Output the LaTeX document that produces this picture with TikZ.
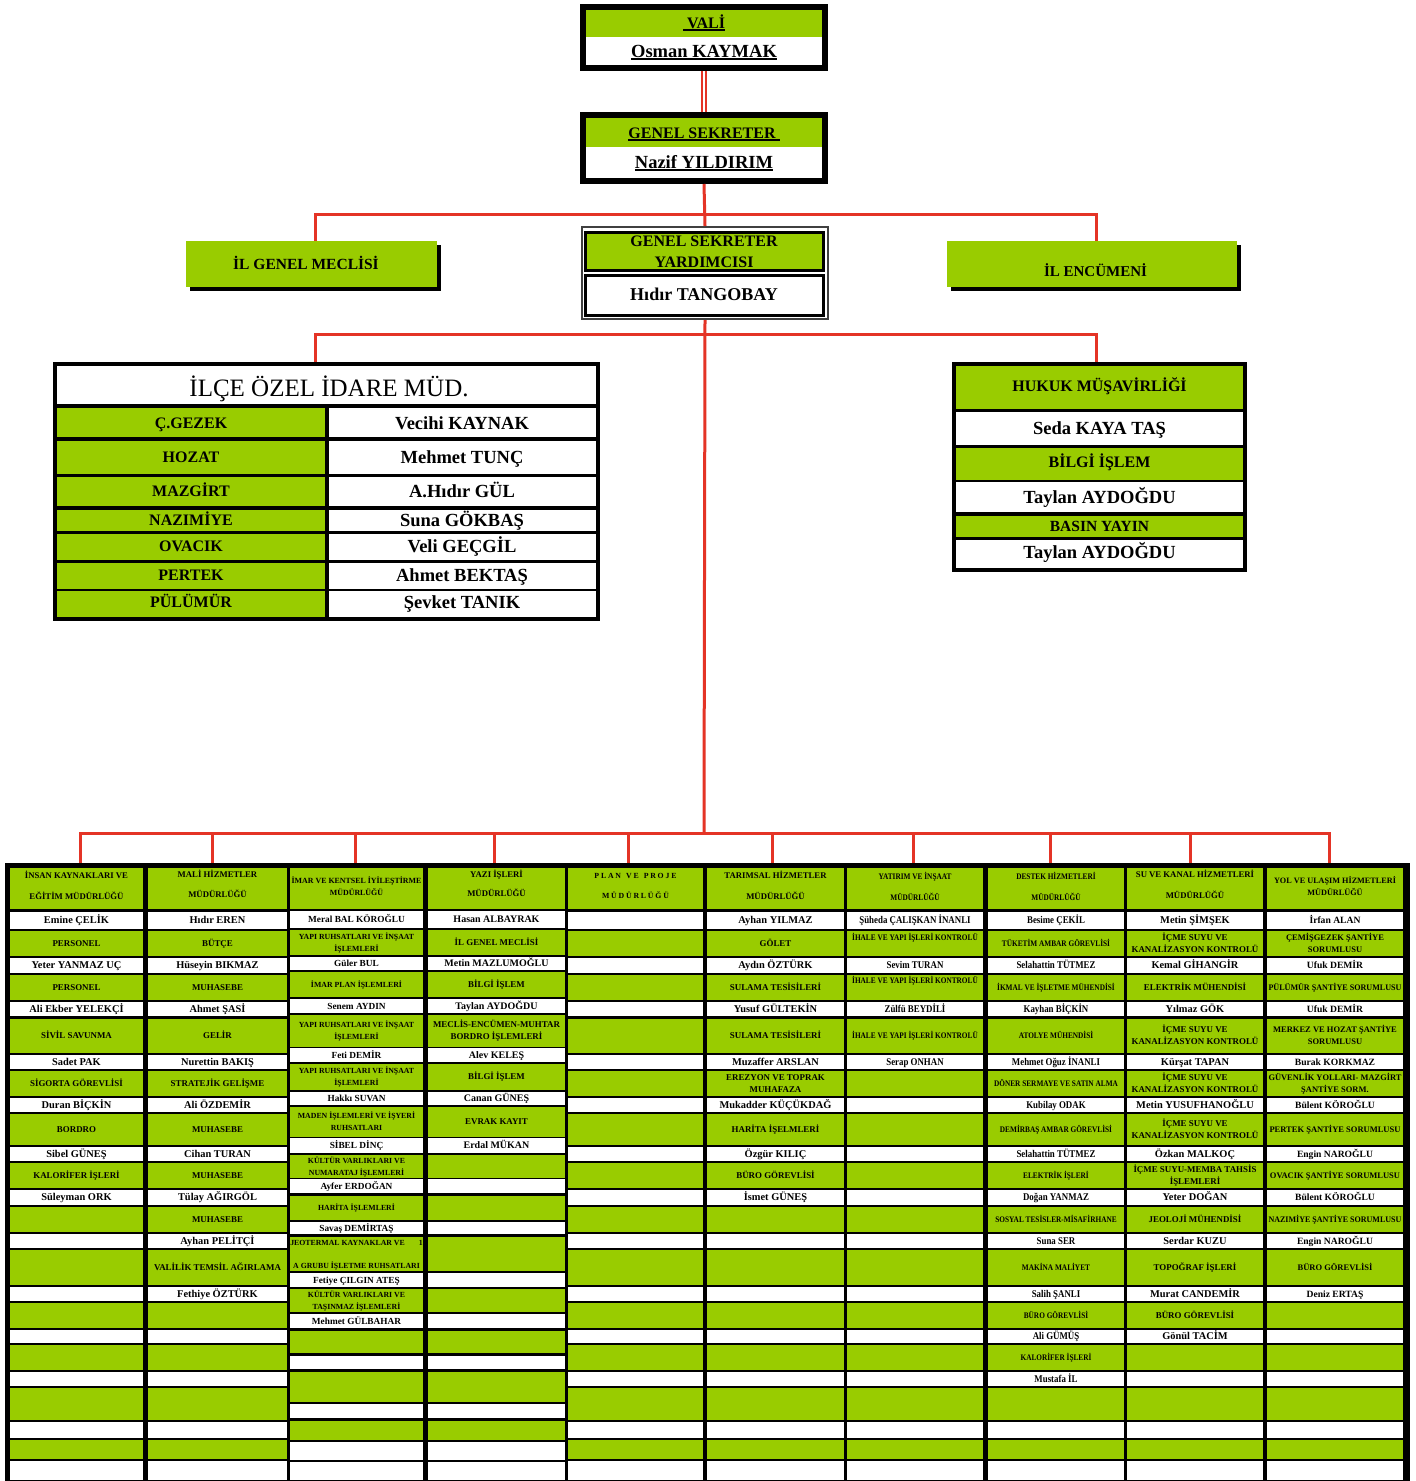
\documentclass[tikz,border=0pt]{standalone}
\usepackage{fontspec}
\setmainfont{Liberation Serif}
\usepackage{graphicx}
\definecolor{gr}{RGB}{153,204,0}
\definecolor{rl}{RGB}{228,52,38}
\newsavebox\fitbox
\newsavebox\ulbox
\newcommand\fitto[2]{\sbox\fitbox{#2}\ifdim\wd\fitbox>#1\relax\resizebox{#1}{\height}{\usebox\fitbox}\else\usebox\fitbox\fi}
\newcommand\capbox[1]{\raisebox{0pt}[0.66em][0pt]{#1}}
\newcommand\Nm[2][10.4]{\fitto{132pt}{\fontsize{#1}{12}\selectfont\capbox{#2}}}
\newcommand\Lb[2][8.9]{\fitto{133pt}{\fontsize{#1}{11}\selectfont\capbox{#2}}}
\newcommand\Nc[2][10.3]{\fitto{132pt}{\scalebox{0.86}[1]{\fontsize{#1}{12}\selectfont\capbox{#2}}}}
\newcommand\Lc[2][8.5]{\fitto{137pt}{\scalebox{0.86}[1]{\fontsize{#1}{11}\selectfont\capbox{#2}}}}
\newcommand\myul[1]{\sbox\ulbox{#1}\rlap{\rule[-2.8pt]{\wd\ulbox}{1.6pt}}\usebox\ulbox}
\newcommand\lsp{\hspace{1.8pt}}
\newcommand\wsp{\hspace{5pt}}
\def\rowA{{888.5,920.5,943.5,965.5,987.5,1009,1036,1062,1083.5,1105,1129.5,1154,1175.5,1197.5,1219.5,1241,1267.5,1294,1315.5,1336.5,1357.5,1379,1404,1430,1449.5,1470.5}}
\def\rowB{{888.5,919.5,942.5,963.5,984.5,1006,1031,1055,1077,1098.5,1122,1145.5,1166.5,1186,1208,1228,1254,1280,1300.5,1321,1342,1362.5,1387,1411,1430.5,1451,1471}}
\def\colmid{{0,76.5,217.5,356.5,496.5,635.5,775.5,915,1056,1195,1335}}
\def\rowsA{gr/868/909, white/912/929, gr/931/956, white/958/973, gr/975/1000, white/1002/1016, gr/1019/1053, white/1055/1069, gr/1071/1096, white/1098/1112, gr/1114/1145, white/1147/1161, gr/1163/1188, white/1190/1205, gr/1207/1232, white/1234/1248, gr/1250/1285, white/1287/1301, gr/1303/1328, white/1330/1343, gr/1345/1370, white/1372/1386, gr/1388/1420, white/1422/1438, gr/1440/1459, white/1461/1480}
\def\rowsB{gr/868/909, white/911/928, gr/930/955, white/957/970, gr/972/997, white/999/1013, gr/1015/1047, white/1048/1062, gr/1064/1090, white/1092/1105, gr/1107/1137, white/1138/1153, gr/1155/1178, white/1179/1193, gr/1196/1220, white/1222/1234, gr/1237/1271, white/1273/1287, gr/1289/1312, white/1314/1328, gr/1331/1353, white/1356/1369, gr/1372/1402, white/1404/1418, gr/1421/1440, white/1442/1460, white/1462/1480}
\newcommand\T[3]{%
  \ifnum#1=3 \pgfmathsetmacro\ty{\rowB[#2]}\else\ifnum#1=4 \pgfmathsetmacro\ty{\rowB[#2]}\else\pgfmathsetmacro\ty{\rowA[#2]}\fi\fi
  \pgfmathsetmacro\tx{\colmid[#1]}%
  \node[txt] (t#1-#2) at (\tx,\ty) {#3};}
\newcommand\Ty[4]{\pgfmathsetmacro\tx{\colmid[#1]}\node[txt] (t#1-#2) at (\tx,#3) {#4};}
\begin{document}
\begin{tikzpicture}[x=1pt,y=-1pt,
  redl/.style={draw=rl, line width=3pt},
  txt/.style={inner sep=0pt, outer sep=0pt, align=center, font=\bfseries},
  big/.style={inner sep=0pt, anchor=base},
  frame/.style={draw=black, line width=6pt, inner sep=0pt, outer sep=3pt},
  tabbg/.style={fill=black, inner sep=0pt}]
\useasboundingbox (0,0) rectangle (1416,1481);
\fill[white] (0,0) rectangle (1416,1481);

% ---------- VALI ----------
\node[frame, minimum width=242pt, minimum height=61pt] (vali) at (704,37.5) {};
\fill[gr] (586,10) rectangle (822,37);
\fill[white] (586,37) rectangle (822,65);
\node[big, font=\bfseries\fontsize{16}{18}\selectfont] (valit) at (704,28) {\myul{\ VALİ}};
\node[big, font=\bfseries\fontsize{18.5}{20}\selectfont] (valin) at (704,57) {\myul{Osman KAYMAK}};

% ---------- GENEL SEKRETER ----------
\node[frame, minimum width=242pt, minimum height=66pt] (gs) at (704,148) {};
\fill[gr] (586,118) rectangle (822,147);
\fill[white] (586,147) rectangle (822,178);
\node[big, font=\bfseries\fontsize{16}{18}\selectfont] (gst) at (704,138) {\myul{GENEL SEKRETER\ }};
\node[big, font=\bfseries\fontsize{18.5}{20}\selectfont] (gsn) at (704,168) {\myul{Nazif YILDIRIM}};

% ---------- GSY ----------
\node[draw=black!75, line width=2pt, minimum width=246pt, minimum height=92pt, inner sep=0pt, outer sep=1pt] (gsy) at (705,273) {};
\draw[fill=gr, line width=3pt] (585.5,232.5) rectangle (823.5,270.5);
\draw[fill=white, line width=3pt] (585.5,275.5) rectangle (823.5,315.5);
\node[big, font=\bfseries\fontsize{16}{18}\selectfont] (gsyt1) at (704,246) {GENEL SEKRETER};
\node[big, font=\bfseries\fontsize{16}{18}\selectfont] (gsyt2) at (704,267) {YARDIMCISI};
\node[big, font=\bfseries\fontsize{18}{20}\selectfont] (gsyn) at (704,300) {Hıdır TANGOBAY};

% ---------- MECLIS / ENCUMEN ----------
\fill[black] (190,245) rectangle (441,291);
\node[fill=gr, minimum width=251pt, minimum height=46pt, inner sep=0pt] (meclis) at (311.5,264) {};
\node[big, font=\bfseries\fontsize{15.5}{18}\selectfont] (meclist) at (306,269) {İL GENEL MECLİSİ};
\fill[black] (951,245) rectangle (1241,291);
\node[fill=gr, minimum width=290pt, minimum height=46pt, inner sep=0pt] (encumen) at (1092,264) {};
\node[big, font=\bfseries\fontsize{15}{18}\selectfont] (encument) at (1095.5,276) {İL ENCÜMENİ};

% ---------- ILCE ----------
\node[tabbg, minimum width=547pt, minimum height=259pt] (ilce) at (326.5,491.5) {};
\fill[white] (57,366) rectangle (596,404);
\node[big, font=\fontsize{25}{28}\selectfont] (ilcet) at (329,396) {İLÇE ÖZEL İDARE MÜD.};
\foreach \a/\b/\yy/\l/\n [count=\k] in {408/437/423/Ç.GEZEK/Vecihi KAYNAK, 441/474/457/HOZAT/Mehmet TUNÇ, 477/506/491/MAZGİRT/A.Hıdır GÜL, 510/531/520/NAZIMİYE/Suna GÖKBAŞ, 534/560/546/OVACIK/Veli GEÇGİL, 563/589/575/PERTEK/Ahmet BEKTAŞ, 591/617/602/PÜLÜMÜR/Şevket TANIK}{
  \fill[gr] (57,\a) rectangle (325,\b);
  \fill[white] (329,\a) rectangle (596,\b);
  \node[big, font=\bfseries\fontsize{16}{18}\selectfont] (ilk\k) at (191,\yy+5.3) {\l};
  \node[big, font=\bfseries\fontsize{18.5}{20}\selectfont] (ilv\k) at (462,\yy+6.1) {\n};
}

% ---------- HUKUK ----------
\node[tabbg, minimum width=295pt, minimum height=210pt] (hukuk) at (1099.5,467) {};
\foreach \c/\a/\b/\yy/\s/\l [count=\k] in {gr/366/409/386/16/HUKUK MÜŞAVİRLİĞİ, white/412/445/428/18.5/Seda KAYA TAŞ, gr/448/480/462/16/BİLGİ İŞLEM, white/482/512/497/18.5/Taylan AYDOĞDU, gr/516/537/526/15.5/BASIN YAYIN, white/540/568/552/18.5/Taylan AYDOĞDU}{
  \fill[\c] (956,\a) rectangle (1243,\b);
  \node[big, font=\bfseries\fontsize{\s}{20}\selectfont] (hk\k) at (1099.5,\yy+0.33*\s) {\l};
}

% ---------- BOTTOM TABLE ----------
\fill[black] (5,863) rectangle (1410,1481);
\foreach \xa/\xb in {10/143,148/287,568/703,707/844,847/983,988/1124,1127/1263,1267/1403}{
  \foreach \c/\a/\b in \rowsA { \fill[\c] (\xa,\a) rectangle (\xb,\b); }
}
\foreach \xa/\xb in {290/423,428/565}{
  \foreach \c/\a/\b in \rowsB { \fill[\c] (\xa,\a) rectangle (\xb,\b); }
}

% column 1
\Ty{1}{0}{886.5}{\Lb[8.7]{İNSAN KAYNAKLARI VE}\\[9pt]\Lb[8.7]{EĞİTİM MÜDÜRLÜĞÜ}}
\T{1}{1}{\Nm{Emine ÇELİK}}
\T{1}{2}{\Lb{PERSONEL}}
\T{1}{3}{\Nm{Yeter YANMAZ UÇ}}
\T{1}{4}{\Lb{PERSONEL}}
\T{1}{5}{\Nm{Ali Ekber YELEKÇİ}}
\T{1}{6}{\Lb{SİVİL SAVUNMA}}
\T{1}{7}{\Nm{Sadet PAK}}
\T{1}{8}{\Lb{SİGORTA GÖREVLİSİ}}
\T{1}{9}{\Nm{Duran BİÇKİN}}
\T{1}{10}{\Lb{BORDRO}}
\T{1}{11}{\Nm{Sibel GÜNEŞ}}
\T{1}{12}{\Lb{KALORİFER İŞLERİ}}
\T{1}{13}{\Nm{Süleyman ORK}}

% column 2
\Ty{2}{0}{885}{\Lb[8.7]{MALİ HİZMETLER}\\[8pt]\Lb[8.7]{MÜDÜRLÜĞÜ}}
\T{2}{1}{\Nm{Hıdır EREN}}
\T{2}{2}{\Lb{BÜTÇE}}
\T{2}{3}{\Nm{Hüseyin BIKMAZ}}
\T{2}{4}{\Lb{MUHASEBE}}
\T{2}{5}{\Nm{Ahmet ŞASİ}}
\T{2}{6}{\Lb{GELİR}}
\T{2}{7}{\Nm{Nurettin BAKIŞ}}
\T{2}{8}{\Lb{STRATEJİK GELİŞME}}
\T{2}{9}{\Nm{Ali ÖZDEMİR}}
\T{2}{10}{\Lb{MUHASEBE}}
\T{2}{11}{\Nm{Cihan TURAN}}
\T{2}{12}{\Lb{MUHASEBE}}
\T{2}{13}{\Nm{Tülay AĞIRGÖL}}
\T{2}{14}{\Lb{MUHASEBE}}
\T{2}{15}{\Nm{Ayhan PELİTÇİ}}
\T{2}{16}{\Lb{VALİLİK TEMSİL AĞIRLAMA}}
\T{2}{17}{\Nm{Fethiye ÖZTÜRK}}

% column 3
\Ty{3}{0}{887}{\Lb[7.9]{İMAR VE KENTSEL İYİLEŞTİRME}\\\Lb[7.9]{MÜDÜRLÜĞÜ}}
\T{3}{1}{\Nm[9.3]{Meral BAL KÖROĞLU}}
\T{3}{2}{\Lb[7.8]{YAPI RUHSATLARI VE İNŞAAT}\\\Lb[7.8]{İŞLEMLERİ}}
\T{3}{3}{\Nm[9.3]{Güler BUL}}
\T{3}{4}{\Lb[7.8]{İMAR PLAN İŞLEMLERİ}}
\T{3}{5}{\Nm[9.3]{Senem AYDIN}}
\T{3}{6}{\Lb[7.8]{YAPI RUHSATLARI VE İNŞAAT}\\\Lb[7.8]{İŞLEMLERİ}}
\T{3}{7}{\Nm[9.3]{Feti DEMİR}}
\T{3}{8}{\Lb[7.8]{YAPI RUHSATLARI VE İNŞAAT}\\\Lb[7.8]{İŞLEMLERİ}}
\T{3}{9}{\Nm[9.3]{Hakkı SUVAN}}
\T{3}{10}{\Lb[7.8]{MADEN İŞLEMLERİ VE İŞYERİ}\\\Lb[7.8]{RUHSATLARI}}
\T{3}{11}{\Nm[9.3]{SİBEL DİNÇ}}
\T{3}{12}{\Lb[7.8]{KÜLTÜR VARLIKLARI VE}\\\Lb[7.8]{NUMARATAJ İŞLEMLERİ}}
\T{3}{13}{\Nm[9.3]{Ayfer ERDOĞAN}}
\T{3}{14}{\Lb[7.8]{HARİTA İŞLEMLERİ}}
\T{3}{15}{\Nm[9.3]{Savaş DEMİRTAŞ}}
\Ty{3}{16a}{1243}{\Lb[7.8]{JEOTERMAL KAYNAKLAR VE\hspace{14pt}1}}
\Ty{3}{16b}{1266}{\Lb[7.8]{A GRUBU İŞLETME RUHSATLARI}}
\T{3}{17}{\Nm[9.3]{Fetiye ÇILGIN ATEŞ}}
\T{3}{18}{\Lb[7.8]{KÜLTÜR VARLIKLARI VE}\\\Lb[7.8]{TAŞINMAZ İŞLEMLERİ}}
\T{3}{19}{\Nm[9.3]{Mehmet GÜLBAHAR}}

% column 4
\Ty{4}{0}{884.5}{\Lb[8.7]{YAZI İŞLERİ}\\[7pt]\Lb[8.7]{MÜDÜRLÜĞÜ}}
\T{4}{1}{\Nm[10]{Hasan ALBAYRAK}}
\T{4}{2}{\Lb{İL GENEL MECLİSİ}}
\T{4}{3}{\Nm[10]{Metin MAZLUMOĞLU}}
\T{4}{4}{\Lb{BİLGİ İŞLEM}}
\T{4}{5}{\Nm[10]{Taylan AYDOĞDU}}
\T{4}{6}{\Lb{MECLİS-ENCÜMEN-MUHTAR}\\\Lb{BORDRO İŞLEMLERİ}}
\T{4}{7}{\Nm[10]{Alev KELEŞ}}
\T{4}{8}{\Lb{BİLGİ İŞLEM}}
\T{4}{9}{\Nm[10]{Canan GÜNEŞ}}
\T{4}{10}{\Lb{EVRAK KAYIT}}
\T{4}{11}{\Nm[10]{Erdal MÜKAN}}

% column 5
\Ty{5}{0}{885.5}{\Lb[7.8]{P\lsp L\lsp A\lsp N\wsp V\lsp E\wsp P\lsp R\lsp O\lsp J\lsp E}\\[8pt]\Lb[7.8]{M\lsp Ü\lsp D\lsp Ü\lsp R\lsp L\lsp Ü\lsp Ğ\lsp Ü}}

% column 6
\Ty{6}{0}{886.5}{\Lb[8.7]{TARIMSAL HİZMETLER}\\[9pt]\Lb[8.7]{MÜDÜRLÜĞÜ}}
\T{6}{1}{\Nm{Ayhan YILMAZ}}
\T{6}{2}{\Lb{GÖLET}}
\T{6}{3}{\Nm{Aydın ÖZTÜRK}}
\T{6}{4}{\Lb{SULAMA TESİSİLERİ}}
\T{6}{5}{\Nm{Yusuf GÜLTEKİN}}
\T{6}{6}{\Lb{SULAMA TESİSİLERİ}}
\T{6}{7}{\Nm{Muzaffer ARSLAN}}
\T{6}{8}{\Lb{EREZYON VE TOPRAK}\\\Lb{MUHAFAZA}}
\T{6}{9}{\Nm{Mukadder KÜÇÜKDAĞ}}
\T{6}{10}{\Lb{HARİTA İŞELMLERİ}}
\T{6}{11}{\Nm{Özgür KILIÇ}}
\T{6}{12}{\Lb{BÜRO GÖREVLİSİ}}
\T{6}{13}{\Nm{İsmet GÜNEŞ}}

% column 7
\Ty{7}{0}{887}{\Lc{YATIRIM VE İNŞAAT}\\[9pt]\Lc{MÜDÜRLÜĞÜ}}
\T{7}{1}{\Nc{Şüheda ÇALIŞKAN İNANLI}}
\Ty{7}{2}{938}{\Lc{İHALE VE YAPI İŞLERİ KONTROLÜ}}
\T{7}{3}{\Nc{Sevim TURAN}}
\Ty{7}{4}{981}{\Lc{İHALE VE YAPI İŞLERİ KONTROLÜ}}
\T{7}{5}{\Nc{Zülfü BEYDİLİ}}
\T{7}{6}{\Lc{İHALE VE YAPI İŞLERİ KONTROLÜ}}
\T{7}{7}{\Nc{Serap ONHAN}}

% column 8
\Ty{8}{0}{887}{\Lc{DESTEK HİZMETLERİ}\\[9pt]\Lc{MÜDÜRLÜĞÜ}}
\T{8}{1}{\Nc{Besime ÇEKİL}}
\T{8}{2}{\Lc{TÜKETİM AMBAR GÖREVLİSİ}}
\T{8}{3}{\Nc{Selahattin TÜTMEZ}}
\T{8}{4}{\Lc{İKMAL VE İŞLETME MÜHENDİSİ}}
\T{8}{5}{\Nc{Kayhan BİÇKİN}}
\T{8}{6}{\Lc{ATOLYE MÜHENDİSİ}}
\T{8}{7}{\Nc{Mehmet Oğuz İNANLI}}
\T{8}{8}{\Lc{DÖNER SERMAYE VE SATIN ALMA}}
\T{8}{9}{\Nc{Kubilay ODAK}}
\T{8}{10}{\Lc{DEMİRBAŞ AMBAR GÖREVLİSİ}}
\T{8}{11}{\Nc{Selahattin TÜTMEZ}}
\T{8}{12}{\Lc{ELEKTRİK İŞLERİ}}
\T{8}{13}{\Nc{Doğan YANMAZ}}
\T{8}{14}{\Lc{SOSYAL TESİSLER-MİSAFİRHANE}}
\T{8}{15}{\Nc{Suna SER}}
\T{8}{16}{\Lc{MAKİNA MALİYET}}
\T{8}{17}{\Nc{Salih ŞANLI}}
\T{8}{18}{\Lc{BÜRO GÖREVLİSİ}}
\T{8}{19}{\Nc{Ali GÜMÜŞ}}
\T{8}{20}{\Lc{KALORİFER İŞLERİ}}
\T{8}{21}{\Nc{Mustafa İL}}

% column 9
\Ty{9}{0}{885.5}{\Lb[8.7]{SU VE KANAL HİZMETLERİ}\\[9pt]\Lb[8.7]{MÜDÜRLÜĞÜ}}
\T{9}{1}{\Nm{Metin ŞİMŞEK}}
\T{9}{2}{\Lb{İÇME SUYU VE}\\\Lb{KANALİZASYON KONTROLÜ}}
\T{9}{3}{\Nm{Kemal GİHANGİR}}
\T{9}{4}{\Lb{ELEKTRİK MÜHENDİSİ}}
\T{9}{5}{\Nm{Yılmaz GÖK}}
\T{9}{6}{\Lb{İÇME SUYU VE}\\\Lb{KANALİZASYON KONTROLÜ}}
\T{9}{7}{\Nm{Kürşat TAPAN}}
\T{9}{8}{\Lb{İÇME SUYU VE}\\\Lb{KANALİZASYON KONTROLÜ}}
\T{9}{9}{\Nm{Metin YUSUFHANOĞLU}}
\T{9}{10}{\Lb{İÇME SUYU VE}\\\Lb{KANALİZASYON KONTROLÜ}}
\T{9}{11}{\Nm{Özkan MALKOÇ}}
\T{9}{12}{\Lb{İÇME SUYU-MEMBA TAHSİS}\\\Lb{İŞLEMLERİ}}
\T{9}{13}{\Nm{Yeter DOĞAN}}
\T{9}{14}{\Lb{JEOLOJİ MÜHENDİSİ}}
\T{9}{15}{\Nm{Serdar KUZU}}
\T{9}{16}{\Lb{TOPOĞRAF İŞLERİ}}
\T{9}{17}{\Nm{Murat CANDEMİR}}
\T{9}{18}{\Lb{BÜRO GÖREVLİSİ}}
\T{9}{19}{\Nm{Gönül TACİM}}

% column 10
\Ty{10}{0}{887}{\Lb[8.2]{YOL VE ULAŞIM HİZMETLERİ}\\\Lb[8.2]{MÜDÜRLÜĞÜ}}
\T{10}{1}{\Nm[9.6]{İrfan ALAN}}
\T{10}{2}{\Lb[8.5]{ÇEMİŞGEZEK ŞANTİYE}\\\Lb[8.5]{SORUMLUSU}}
\T{10}{3}{\Nm[9.6]{Ufuk DEMİR}}
\T{10}{4}{\Lb[8.5]{PÜLÜMÜR ŞANTİYE SORUMLUSU}}
\T{10}{5}{\Nm[9.6]{Ufuk DEMİR}}
\T{10}{6}{\Lb[8.5]{MERKEZ VE HOZAT ŞANTİYE}\\\Lb[8.5]{SORUMLUSU}}
\T{10}{7}{\Nm[9.6]{Burak KORKMAZ}}
\T{10}{8}{\Lb[8.5]{GÜVENLİK YOLLARI- MAZGİRT}\\\Lb[8.5]{ŞANTİYE SORM.}}
\T{10}{9}{\Nm[9.6]{Bülent KÖROĞLU}}
\T{10}{10}{\Lb[8.5]{PERTEK ŞANTİYE SORUMLUSU}}
\T{10}{11}{\Nm[9.6]{Engin NAROĞLU}}
\T{10}{12}{\Lb[8.5]{OVACIK ŞANTİYE SORUMLUSU}}
\T{10}{13}{\Nm[9.6]{Bülent KÖROĞLU}}
\T{10}{14}{\Lb[8.5]{NAZIMİYE ŞANTİYE SORUMLUSU}}
\T{10}{15}{\Nm[9.6]{Engin NAROĞLU}}
\T{10}{16}{\Lb[8.5]{BÜRO GÖREVLİSİ}}
\T{10}{17}{\Nm[9.6]{Deniz ERTAŞ}}

% ---------- CONNECTORS ----------
\draw[rl, line width=1.8pt] ([xshift=-2pt]vali.south) -- ([xshift=-2pt]gs.north);
\draw[rl, line width=1.8pt] ([xshift=2pt]vali.south) -- ([xshift=2pt]gs.north);
\draw[redl] (gs.south) -- (gsy.north);
\coordinate (j1) at (704,214);
\draw[redl] ([xshift=3.5pt]meclis.north) |- (j1) -| ([xshift=4pt]encumen.north);
\coordinate (j2) at (704,334);
\coordinate (bus) at (704,833);
\draw[redl] (gsy.south) -- (bus);
\draw[redl] ([xshift=-11.5pt]ilce.north) |- (j2) -| ([xshift=-3.5pt]hukuk.north);
\foreach \x [count=\k] in {80,212,355,494,628,772,913,1050,1190,1329}{ \coordinate (d\k) at (\x,863); }
\draw[redl] (d1) |- (bus) -| (d10);
\foreach \k in {2,...,9}{ \draw[redl] (d\k) -- (d\k |- bus); }
\end{tikzpicture}
\end{document}
